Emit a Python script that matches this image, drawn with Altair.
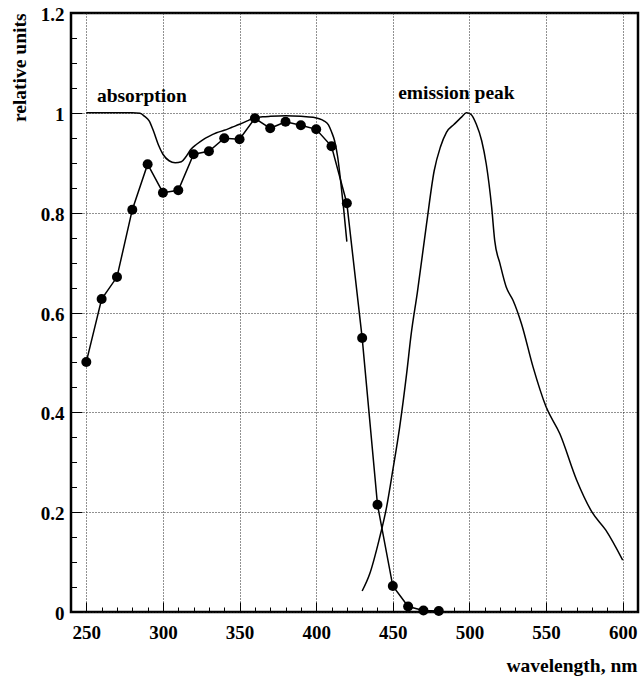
import altair as alt
import pandas as pd

# measured absorption points
dot_wl = [250, 260, 270, 280, 290, 300, 310, 320, 330, 340, 350, 360,
          370, 380, 390, 400, 410, 420, 430, 440, 450, 460, 470, 480]
dot_val = [0.501, 0.627, 0.671, 0.806, 0.897, 0.840, 0.845, 0.917, 0.923, 0.949, 0.947, 0.989,
           0.969, 0.982, 0.975, 0.967, 0.933, 0.819, 0.549, 0.215, 0.052, 0.011, 0.003, 0.002]

# smooth absorption curve
abs_wl = [250, 260, 270, 280, 285, 288, 291, 294, 297, 300, 304, 308, 312, 315, 318, 322,
          326, 330, 335, 340, 345, 350, 355, 360, 365, 370, 380, 390, 398, 402, 405, 408,
          410, 412, 414, 416, 418, 420]
abs_val = [1.0, 1.0, 1.0, 1.0, 0.999, 0.993, 0.984, 0.962, 0.936, 0.917, 0.904, 0.900, 0.902,
           0.912, 0.926, 0.937, 0.946, 0.953, 0.960, 0.965, 0.971, 0.977, 0.984, 0.990, 0.992,
           0.993, 0.994, 0.993, 0.991, 0.988, 0.984, 0.976, 0.962, 0.944, 0.912, 0.862, 0.805, 0.742]

# emission curve
em_wl = [430, 435, 441, 446, 450, 454.5, 459, 462, 466, 472, 477, 481, 485, 490, 495, 498,
         501, 504.5, 508, 511, 514.5, 516.5, 520, 524, 528.5, 534, 541.5, 550, 559, 570, 580,
         589, 600]
em_val = [0.042, 0.077, 0.144, 0.211, 0.284, 0.371, 0.477, 0.557, 0.640, 0.777, 0.884, 0.931,
          0.961, 0.977, 0.992, 1.0, 0.997, 0.977, 0.944, 0.897, 0.811, 0.744, 0.697, 0.651,
          0.624, 0.577, 0.491, 0.411, 0.357, 0.264, 0.200, 0.164, 0.104]

label_text = ["absorption", "emission peak"]
label_wl = [256.9, 453.5]
label_val = [1.0216, 1.0285]

x_major = [250, 300, 350, 400, 450, 500, 550, 600]
x_minor = [250, 260, 270, 280, 290, 300, 310, 320, 330, 340, 350, 360, 370, 380, 390, 400,
           410, 420, 430, 440, 450, 460, 470, 480, 490, 500, 510, 520, 530, 540, 550, 560,
           570, 580, 590, 600]
y_major = [0, 0.2, 0.4, 0.6, 0.8, 1.0, 1.2]
y_minor = [0.05, 0.1, 0.15, 0.2, 0.25, 0.3, 0.35, 0.4, 0.45, 0.5, 0.55, 0.6, 0.65, 0.7, 0.75,
           0.8, 0.85, 0.9, 0.95, 1.0, 1.05, 1.1, 1.15]

FONT = "Liberation Serif"

dots = pd.DataFrame({"wl": dot_wl, "v": dot_val})
absc = pd.DataFrame({"wl": abs_wl, "v": abs_val})
emc = pd.DataFrame({"wl": em_wl, "v": em_val})
labels = pd.DataFrame({"wl": label_wl, "v": label_val, "t": label_text})

xs = alt.Scale(domain=[240, 610], nice=False, zero=False)
ys = alt.Scale(domain=[0, 1.2], nice=False, zero=False)

main_x = alt.Axis(orient="bottom", values=x_major, grid=True, gridDash=[1, 2], gridColor="#222222",
                  gridOpacity=1, gridWidth=1, ticks=False, tickSize=0, domain=False,
                  labelFont=FONT, labelFontSize=19, labelFontWeight="bold", labelColor="black",
                  labelPadding=26, labelBaseline="alphabetic", labelFlush=False, labelOverlap=False,
                  title="wavelength, nm", titleFont=FONT, titleFontSize=19.5, titleFontWeight="bold",
                  titleColor="black", titleX=566, titleY=59, titleAlign="right",
                  titleBaseline="alphabetic")
main_y = alt.Axis(orient="left", values=y_major, format="~g", grid=True, gridDash=[1, 2],
                  gridColor="#222222", gridOpacity=1, gridWidth=1, ticks=False, tickSize=0,
                  domain=False,
                  labelFont=FONT, labelFontSize=19, labelFontWeight="bold", labelColor="black",
                  labelPadding=7, labelBaseline="middle", labelOffset=1.5, labelFlush=False,
                  labelOverlap=False,
                  title="relative units", titleFont=FONT, titleFontSize=19.5, titleFontWeight="bold",
                  titleColor="black", titleAngle=270, titleAlign="right", titleBaseline="alphabetic",
                  titleX=-46, titleY=0)

minor_x = alt.Axis(orient="bottom", values=x_minor, offset=-5, tickSize=5, tickColor="black",
                   tickWidth=1, labels=False, domain=False, grid=False, title="")
minor_y = alt.Axis(orient="left", values=y_minor, offset=-5.5, tickSize=5.5, tickColor="black",
                   tickWidth=1, labels=False, domain=False, grid=False, title="")
major_x = alt.Axis(orient="bottom", values=x_major, offset=-10, tickSize=10, tickColor="black",
                   tickWidth=1, labels=False, domain=False, grid=False, title="")
major_y = alt.Axis(orient="left", values=y_major, offset=-11, tickSize=11, tickColor="black",
                   tickWidth=1, labels=False, domain=False, grid=False, title="")

dot_line = alt.Chart(dots).mark_line(color="black", strokeWidth=1.5).encode(
    x=alt.X("wl:Q", scale=xs, axis=main_x),
    y=alt.Y("v:Q", scale=ys, axis=main_y),
)
dot_pts = alt.Chart(dots).mark_circle(color="black", size=100, opacity=1).encode(
    x=alt.X("wl:Q", scale=xs, axis=None),
    y=alt.Y("v:Q", scale=ys, axis=None),
)
abs_line = alt.Chart(absc).mark_line(color="black", strokeWidth=1.5, interpolate="monotone").encode(
    x=alt.X("wl:Q", scale=xs, axis=minor_x),
    y=alt.Y("v:Q", scale=ys, axis=minor_y),
)
em_line = alt.Chart(emc).mark_line(color="black", strokeWidth=1.5, interpolate="monotone").encode(
    x=alt.X("wl:Q", scale=xs, axis=major_x),
    y=alt.Y("v:Q", scale=ys, axis=major_y),
)
txt = alt.Chart(labels).mark_text(align="left", baseline="alphabetic", font=FONT, fontSize=19.5,
                                  fontWeight="bold", color="black").encode(
    x=alt.X("wl:Q", scale=xs, axis=None),
    y=alt.Y("v:Q", scale=ys, axis=None),
    text="t:N",
)

chart = alt.layer(dot_line, dot_pts, abs_line, em_line, txt).resolve_axis(
    x="independent", y="independent"
).properties(
    width=567, height=599, autosize="none",
    padding={"left": 71, "top": 13, "right": 2, "bottom": 67},
    background="white",
).configure_view(stroke="black", strokeWidth=2.5)

chart.save("out.html", embed_options={"renderer": "svg", "actions": False})
